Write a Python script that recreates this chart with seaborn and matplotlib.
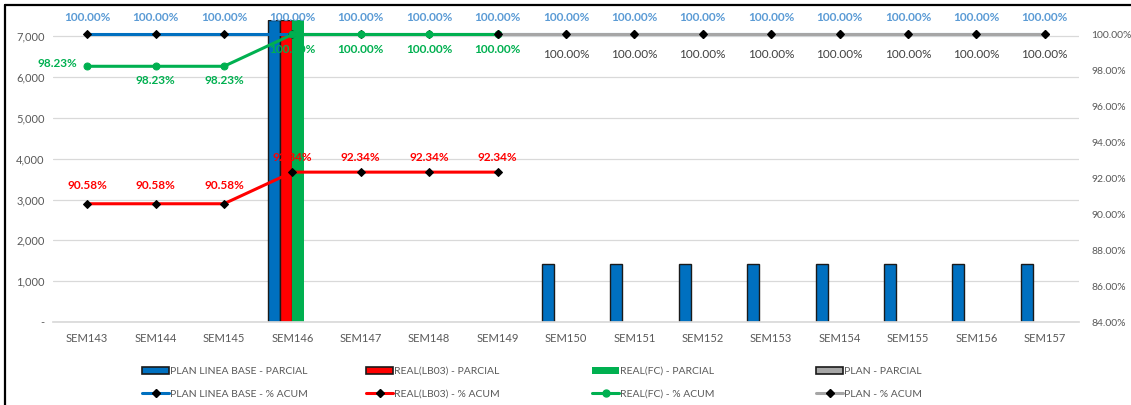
import matplotlib
matplotlib.use("Agg")
import matplotlib.pyplot as plt
from matplotlib.lines import Line2D
from matplotlib.patches import Patch
import numpy as np
import pandas as pd
import seaborn as sns

# Weekly data
semanas = ["SEM143", "SEM144", "SEM145", "SEM146", "SEM147", "SEM148", "SEM149",
           "SEM150", "SEM151", "SEM152", "SEM153", "SEM154", "SEM155", "SEM156", "SEM157"]

# Partial quantities (left axis)
plan_lb_parcial = [None, None, None, 7400, None, None, None,
                   1430, 1430, 1430, 1430, 1430, 1430, 1430, 1430]
real_lb03_parcial = [None, None, None, 7400, None, None, None,
                     None, None, None, None, None, None, None, None]
real_fc_parcial = [None, None, None, 7400, None, None, None,
                   None, None, None, None, None, None, None, None]
plan_parcial = [None] * 15

# Cumulative percentages (right axis)
plan_lb_acum = [100.00] * 15
real_lb03_acum = [90.58, 90.58, 90.58, 92.34, 92.34, 92.34, 92.34]
real_fc_acum = [98.23, 98.23, 98.23, 100.00, 100.00, 100.00, 100.00]
plan_acum = [100.00] * 9          # SEM149 .. SEM157

series_parcial = ["PLAN LINEA BASE - PARCIAL", "REAL(LB03) - PARCIAL",
                  "REAL(FC) - PARCIAL", "PLAN - PARCIAL"]
series_acum = ["PLAN LINEA BASE - % ACUM", "REAL(LB03) - % ACUM",
               "REAL(FC) - % ACUM", "PLAN - % ACUM"]

C_BLUE = "#0070C0"
C_BLUE_LBL = "#5B9BD5"
C_RED = "#FF0000"
C_GREEN = "#00B050"
C_GRAY = "#A6A6A6"
C_TXT = "#595959"

sns.set_theme(style="white")
plt.rcParams["font.family"] = ["Lato", "DejaVu Sans"]

rows = []
for name, vals in zip(series_parcial,
                      [plan_lb_parcial, real_lb03_parcial, real_fc_parcial, plan_parcial]):
    for s, v in zip(semanas, vals):
        rows.append({"semana": s, "serie": name, "valor": np.nan if v is None else v})
df = pd.DataFrame(rows)

fig = plt.figure(figsize=(11.31, 4.05), dpi=100)
ax = fig.add_axes([53 / 1131, 83 / 405, 1026 / 1131, 302 / 405])

sns.barplot(data=df, x="semana", y="valor", hue="serie", order=semanas,
            hue_order=series_parcial,
            palette=[C_BLUE, C_RED, C_GREEN, C_GRAY],
            width=0.7, gap=0, errorbar=None, legend=False, ax=ax,
            saturation=1)

# Outline the bars (green has no outline)
for cont, name in zip(ax.containers, series_parcial):
    for p in cont.patches:
        if name == "REAL(FC) - PARCIAL":
            p.set_edgecolor("none")
        else:
            p.set_edgecolor("#1a1a1a")
            p.set_linewidth(1.0)

ax.set_ylim(0, 7400)
ax.set_xlim(-0.5, len(semanas) - 0.5)
ax.set_yticks(range(0, 8000, 1000))
ax.set_yticklabels(["-"] + [f"{v:,}" for v in range(1000, 8000, 1000)])
ax.yaxis.grid(True, color="#D9D9D9", linewidth=0.9)
ax.set_axisbelow(True)
ax.set_xlabel("")
ax.set_ylabel("")
for side in ["top", "right", "left"]:
    ax.spines[side].set_visible(False)
ax.spines["bottom"].set_color("#D9D9D9")
ax.tick_params(axis="y", colors=C_TXT, labelsize=8, length=0, pad=6)
ax.tick_params(axis="x", colors=C_TXT, labelsize=8, length=0, pad=8)

# Cumulative lines on the secondary axis
ax2 = ax.twinx()
ax2.set_ylim(84, 84 + 302 / 17.97)
ax2.set_yticks(np.arange(84, 101, 2))
ax2.set_yticklabels([f"{v:.2f}%" for v in np.arange(84, 101, 2)])
ax2.tick_params(axis="y", colors=C_TXT, labelsize=7.5, length=0, pad=9)
for side in ["top", "right", "left", "bottom"]:
    ax2.spines[side].set_visible(False)
ax2.grid(False)

x_all = np.arange(len(semanas))
lw = 2.2

sns.lineplot(x=x_all, y=plan_lb_acum, ax=ax2, color=C_BLUE, linewidth=lw,
             marker="D", markersize=4, markerfacecolor="black",
             markeredgecolor="black", zorder=3)
x_red = x_all[:len(real_lb03_acum)]
sns.lineplot(x=x_red, y=real_lb03_acum, ax=ax2, color=C_RED, linewidth=lw,
             marker="D", markersize=4, markerfacecolor="black",
             markeredgecolor="black", zorder=4)
x_fc = x_all[:len(real_fc_acum)]
sns.lineplot(x=x_fc, y=real_fc_acum, ax=ax2, color=C_GREEN, linewidth=lw,
             marker="o", markersize=5, markerfacecolor=C_GREEN,
             markeredgecolor=C_GREEN, zorder=5)
x_plan = x_all[6:6 + len(plan_acum)]
sns.lineplot(x=x_plan, y=plan_acum, ax=ax2, color=C_GRAY, linewidth=lw,
             marker="D", markersize=4, markerfacecolor="black",
             markeredgecolor="black", zorder=6)

# Data labels
lbl_kw = dict(fontsize=8.5, fontweight="bold", ha="center", clip_on=False)
for xi, v in zip(x_all, plan_lb_acum):
    ax2.annotate(f"{v:.2f}%", (xi, v), xytext=(0, 12), textcoords="offset points",
                 color=C_BLUE_LBL, va="center", zorder=10, **lbl_kw)
for i, (xi, v) in enumerate(zip(x_red, real_lb03_acum)):
    dy = 13 if i < 3 else 10.5
    ax2.annotate(f"{v:.2f}%", (xi, v), xytext=(0, dy), textcoords="offset points",
                 color=C_RED, va="center", zorder=10, **lbl_kw)
for i, (xi, v) in enumerate(zip(x_fc, real_fc_acum)):
    if i == 0:
        ax2.annotate(f"{v:.2f}%", (xi, v), xytext=(-7, 2), textcoords="offset points",
                     color=C_GREEN, va="center", zorder=10,
                     fontsize=8.5, fontweight="bold", ha="right")
    else:
        ax2.annotate(f"{v:.2f}%", (xi, v), xytext=(0, -10.5), textcoords="offset points",
                     color=C_GREEN, va="center", zorder=10, **lbl_kw)
for xi, v in zip(x_plan[1:], plan_acum[1:]):
    ax2.annotate(f"{v:.2f}%", (xi, v), xytext=(0, -14.5), textcoords="offset points",
                 color="#404040", va="center", ha="center", fontsize=8.5, zorder=10)

# Legend: four columns of bar/line pairs
legend_items = [
    (Patch(facecolor=C_BLUE, edgecolor="#1a1a1a", linewidth=1.2),
     Line2D([], [], color=C_BLUE, lw=lw, marker="D", markersize=4,
            markerfacecolor="black", markeredgecolor="black")),
    (Patch(facecolor=C_RED, edgecolor="#1a1a1a", linewidth=1.2),
     Line2D([], [], color=C_RED, lw=lw, marker="D", markersize=4,
            markerfacecolor="black", markeredgecolor="black")),
    (Patch(facecolor=C_GREEN, edgecolor="none"),
     Line2D([], [], color=C_GREEN, lw=lw, marker="o", markersize=5,
            markerfacecolor=C_GREEN, markeredgecolor=C_GREEN)),
    (Patch(facecolor=C_GRAY, edgecolor="#1a1a1a", linewidth=1.2),
     Line2D([], [], color=C_GRAY, lw=lw, marker="D", markersize=4,
            markerfacecolor="black", markeredgecolor="black")),
]
col_x = [142, 366, 592, 816]
for (hb, hl), lp, la, cx in zip(legend_items, series_parcial, series_acum, col_x):
    leg = fig.legend([hb, hl], [lp, la], loc="upper left",
                     bbox_to_anchor=(cx / 1131, 1 - 367 / 405),
                     frameon=False, fontsize=7.5, handlelength=2.6,
                     handleheight=0.6, handletextpad=0.05, labelspacing=1.3,
                     borderpad=0, borderaxespad=0)
    for t in leg.get_texts():
        t.set_color(C_TXT)

# Chart frame (top and left edges)
fig.add_artist(Line2D([5 / 1131, 5 / 1131], [0, 1 - 5 / 405], color="black",
                      lw=1.6, transform=fig.transFigure))
fig.add_artist(Line2D([5 / 1131, 1], [1 - 5 / 405, 1 - 5 / 405], color="black",
                      lw=1.6, transform=fig.transFigure))

fig.savefig("out.png", dpi=100)
